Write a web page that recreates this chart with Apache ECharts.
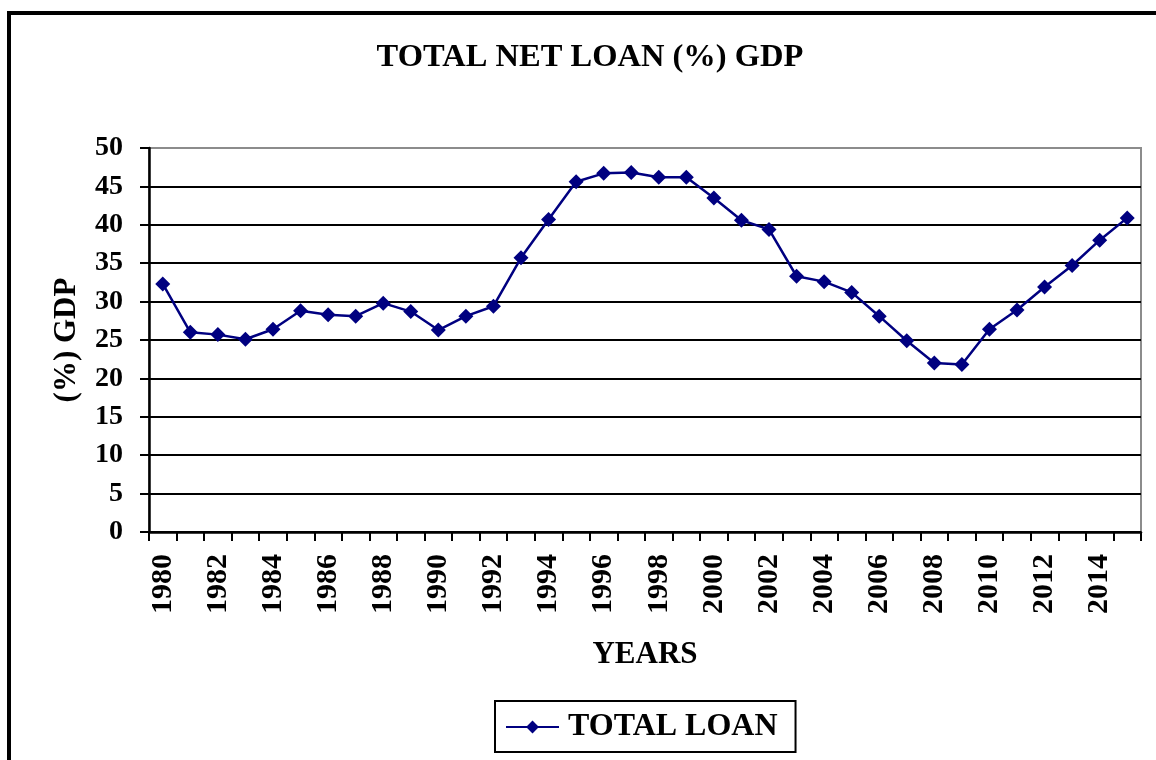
<!DOCTYPE html>
<html>
<head>
<meta charset="utf-8">
<title>TOTAL NET LOAN (%) GDP</title>
<script src="https://cdn.jsdelivr.net/npm/echarts@6/dist/echarts.min.js"></script>
<style>
  html, body { margin: 0; padding: 0; background: #fff; }
  #chart { width: 1156px; height: 760px; }
</style>
</head>
<body>
<div id="chart"></div>
<script>
// Years on the category axis
const years = [
  '1980','1981','1982','1983','1984','1985','1986','1987','1988','1989',
  '1990','1991','1992','1993','1994','1995','1996','1997','1998','1999',
  '2000','2001','2002','2003','2004','2005','2006','2007','2008','2009',
  '2010','2011','2012','2013','2014','2015'
];

// Total net loan as a share of GDP (%)
const totalLoan = [
  32.3, 26.0, 25.7, 25.1, 26.4, 28.8, 28.3, 28.1, 29.8, 28.7,
  26.3, 28.1, 29.4, 35.7, 40.7, 45.6, 46.7, 46.8, 46.2, 46.2,
  43.5, 40.6, 39.4, 33.3, 32.6, 31.2, 28.1, 24.9, 22.0, 21.8,
  26.4, 28.9, 31.9, 34.7, 38.0, 40.9
];

// Value axis range
const yMin = 0;
const yMax = 50;
const yStep = 5;

const FONT = '"Liberation Serif", "Times New Roman", serif';

const chart = echarts.init(document.getElementById('chart'), null, { renderer: 'canvas' });

// one colour per horizontal gridline; the top one sits on the plot frame
const gridColors = [];
for (let v = yMin; v <= yMax; v += yStep) gridColors.push(v === yMax ? '#8c8c8c' : '#000');

chart.setOption({
  animation: false,
  backgroundColor: '#fff',
  title: {
    text: 'TOTAL NET LOAN (%) GDP',
    left: 585,
    top: 36,
    textAlign: 'center',
    textStyle: { fontFamily: FONT, fontWeight: 'bold', fontSize: 32.5, color: '#000' }
  },
  grid: {
    left: 149, right: 15, top: 148, bottom: 228,
    show: true, borderColor: '#8c8c8c', borderWidth: 2, backgroundColor: '#fff'
  },
  legend: {
    left: 495, top: 701,
    padding: [10, 18, 9, 10],
    borderColor: '#000', borderWidth: 2,
    itemWidth: 53, itemHeight: 16,
    textStyle: { fontFamily: FONT, fontWeight: 'bold', fontSize: 32, color: '#000', padding: [0, 0, 0, 4] },
    data: ['TOTAL LOAN']
  },
  xAxis: {
    type: 'category',
    data: years,
    boundaryGap: true,
    name: 'YEARS',
    nameLocation: 'middle',
    nameGap: 107,
    nameTextStyle: { fontFamily: FONT, fontWeight: 'bold', fontSize: 31, color: '#000' },
    axisLine: { show: true, lineStyle: { color: '#000', width: 2.5 } },
    axisTick: { show: true, interval: 0, length: 9, lineStyle: { color: '#000', width: 2 } },
    axisLabel: {
      interval: 1, rotate: 90, margin: 22,
      fontFamily: FONT, fontWeight: 'bold', fontSize: 30, color: '#000'
    },
    splitLine: { show: false }
  },
  yAxis: {
    type: 'value',
    min: yMin, max: yMax, interval: yStep,
    name: '(%) GDP',
    nameLocation: 'middle',
    nameRotate: 90,
    nameGap: 67,
    nameTextStyle: { fontFamily: FONT, fontWeight: 'bold', fontSize: 31, color: '#000' },
    axisLine: { show: true, lineStyle: { color: '#000', width: 2.5 } },
    axisTick: { show: true, length: 9, lineStyle: { color: '#000', width: 2 } },
    axisLabel: { margin: 26, fontFamily: FONT, fontWeight: 'bold', fontSize: 28, color: '#000' },
    splitLine: { show: true, lineStyle: { color: gridColors, width: 2 } }
  },
  series: [{
    name: 'TOTAL LOAN',
    type: 'line',
    data: totalLoan,
    symbol: 'diamond',
    symbolSize: 15,
    itemStyle: { color: '#000080' },
    lineStyle: { color: '#000080', width: 2.5 },
    z: 5
  }],
  graphic: [
    // outer frame, top and left edges
    { type: 'line', shape: { x1: 9, y1: 13, x2: 1156, y2: 13 }, style: { stroke: '#000', lineWidth: 4 } },
    { type: 'line', shape: { x1: 9, y1: 11, x2: 9, y2: 760 }, style: { stroke: '#000', lineWidth: 4 } }
  ]
});
</script>
</body>
</html>
